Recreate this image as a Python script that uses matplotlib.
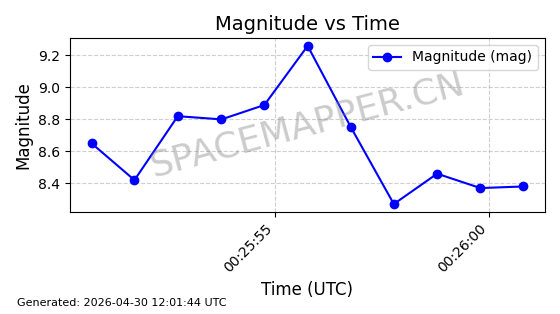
import matplotlib
matplotlib.use("Agg")
import matplotlib.pyplot as plt
import matplotlib.dates as mdates
import pandas as pd

# observation times (UTC) and magnitudes
times = pd.to_datetime([
    "2026-04-30 00:25:50.72", "2026-04-30 00:25:51.72", "2026-04-30 00:25:52.73",
    "2026-04-30 00:25:53.75", "2026-04-30 00:25:54.75", "2026-04-30 00:25:55.76",
    "2026-04-30 00:25:56.77", "2026-04-30 00:25:57.77", "2026-04-30 00:25:58.78",
    "2026-04-30 00:25:59.79", "2026-04-30 00:26:00.79",
])
magnitudes = [8.65, 8.42, 8.82, 8.80, 8.89, 9.26, 8.75, 8.27, 8.46, 8.37, 8.38]

fig, ax = plt.subplots(figsize=(5.6, 3.14), dpi=100)
fig.subplots_adjust(left=0.125, right=0.973, top=0.879, bottom=0.325)

ax.plot(times, magnitudes, "o-", color="blue", markersize=6, label="Magnitude (mag)")
ax.set_title("Magnitude vs Time", fontsize=14)
ax.set_xlabel("Time (UTC)", fontsize=12)
ax.set_ylabel("Magnitude", fontsize=12)
ax.grid(True, linestyle="--", alpha=0.6)
ax.legend(loc="upper right")

ax.xaxis.set_major_formatter(mdates.DateFormatter("%H:%M:%S"))
plt.setp(ax.get_xticklabels(), rotation=45, ha="right")

# watermark
ax.text(0.5, 0.5, "SPACEMAPPER.CN", transform=ax.transAxes, fontsize=26,
        color="gray", alpha=0.4, rotation=15, ha="center", va="center")

fig.text(0.03, 0.025, "Generated: 2026-04-30 12:01:44 UTC", fontsize=8)

plt.savefig("out.png")
